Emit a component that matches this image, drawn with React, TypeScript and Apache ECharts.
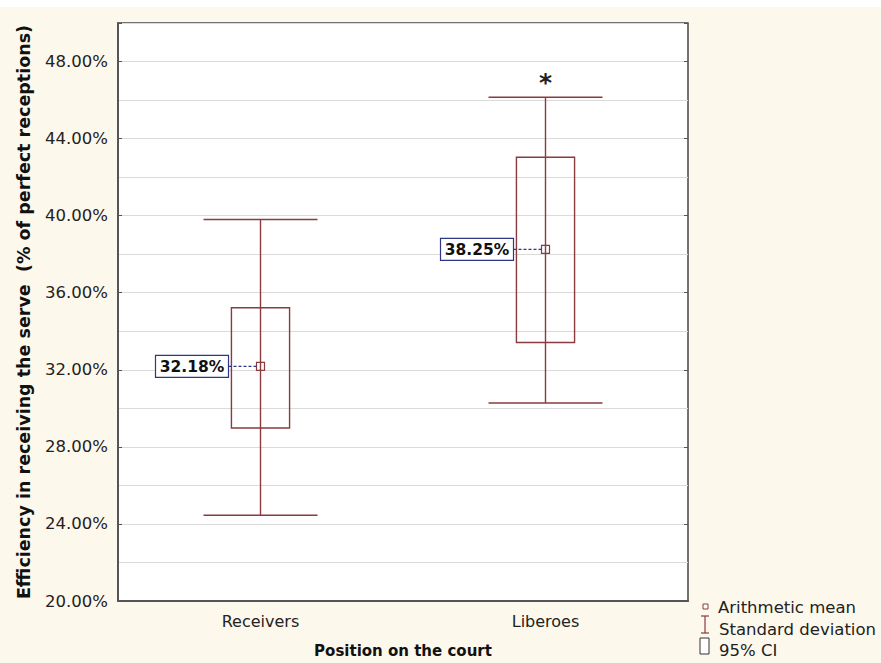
import React, { useEffect, useRef } from "react";
import * as echarts from "echarts";

// Groups on the x axis
const categories = ["Receivers", "Liberoes"];
// Arithmetic mean per group (%)
const means = [32.18, 38.25];
// 95% confidence interval bounds (%)
const ciLow = [28.98, 33.42];
const ciHigh = [35.22, 43.03];
// Mean ± standard deviation (%)
const sdLow = [24.45, 30.28];
const sdHigh = [39.8, 46.15];
// Significance marker drawn above the whisker
const significance = ["", "*"];

const yTitle = "Efficiency in receiving the serve  (% of perfect receptions)";
const xTitle = "Position on the court";

const MAROON = "#8a3b3e";
const NAVY = "#2f3587";
const FONT = "DejaVu Sans";

function renderItem(params: any, api: any) {
  const idx = params.dataIndex;
  const x = api.value(0);
  const pSdLow = api.coord([x, api.value(1)]);
  const pCiLow = api.coord([x, api.value(2)]);
  const pMean = api.coord([x, api.value(3)]);
  const pCiHigh = api.coord([x, api.value(4)]);
  const pSdHigh = api.coord([x, api.value(5)]);
  const band = api.size([1, 0])[0];
  const capHalf = band * 0.2;
  const boxHalf = band * 0.102;
  const cx = pMean[0];
  const lineStyle = { stroke: MAROON, lineWidth: 1.4, fill: "none" };

  const markHalf = 4;
  const labelW = 73;
  const labelH = 22;
  const labelRight = cx - 32;
  const labelText = means[idx].toFixed(2) + "%";

  const children: any[] = [
    { type: "line", shape: { x1: cx, y1: pSdLow[1], x2: cx, y2: pSdHigh[1] }, style: lineStyle },
    { type: "line", shape: { x1: cx - capHalf, y1: pSdLow[1], x2: cx + capHalf, y2: pSdLow[1] }, style: lineStyle },
    { type: "line", shape: { x1: cx - capHalf, y1: pSdHigh[1], x2: cx + capHalf, y2: pSdHigh[1] }, style: lineStyle },
    {
      type: "rect",
      shape: { x: cx - boxHalf, y: pCiHigh[1], width: boxHalf * 2, height: pCiLow[1] - pCiHigh[1] },
      style: lineStyle,
    },
    {
      type: "rect",
      shape: { x: cx - markHalf, y: pMean[1] - markHalf, width: markHalf * 2, height: markHalf * 2 },
      style: { stroke: MAROON, lineWidth: 1.2, fill: "rgba(255,255,255,0)" },
    },
    {
      type: "line",
      shape: { x1: labelRight, y1: pMean[1], x2: cx - markHalf, y2: pMean[1] },
      style: { stroke: NAVY, lineWidth: 1.2, lineDash: [3, 2] },
    },
    {
      type: "rect",
      shape: { x: labelRight - labelW, y: pMean[1] - labelH / 2, width: labelW, height: labelH },
      style: { stroke: NAVY, lineWidth: 1.2, fill: "#ffffff" },
    },
    {
      type: "text",
      style: {
        text: labelText,
        x: labelRight - labelW / 2,
        y: pMean[1] + 1,
        align: "center",
        verticalAlign: "middle",
        textAlign: "center",
        textVerticalAlign: "middle",
        font: `bold 15.5px "${FONT}"`,
        fill: "#111",
      },
    },
  ];

  if (significance[idx]) {
    children.push({
      type: "text",
      style: {
        text: significance[idx],
        x: cx,
        y: pSdHigh[1] - 15,
        align: "center",
        verticalAlign: "middle",
        textAlign: "center",
        textVerticalAlign: "middle",
        font: `bold 25px "${FONT}"`,
        fill: "#222",
      },
    });
  }

  return { type: "group", children };
}

export default function App() {
  const ref = useRef<HTMLDivElement>(null);

  useEffect(() => {
    document.body.style.margin = "0";
    const chart = echarts.init(ref.current!, null, { renderer: "svg" });

    const data = categories.map((_, i) => [i, sdLow[i], ciLow[i], means[i], ciHigh[i], sdHigh[i]]);

    const tickAxis = (position: "left" | "right") => ({
      type: "value",
      min: 20,
      max: 50,
      interval: 4,
      position,
      axisLine: { show: false },
      axisTick: { show: true, inside: true, length: 4, lineStyle: { color: "#555" } },
      axisLabel: { show: false },
      splitLine: { show: false },
    });

    const legendFont = `16.5px "${FONT}"`;

    chart.setOption({
      animation: false,
      backgroundColor: "#fdf8ec",
      textStyle: { fontFamily: FONT },
      grid: {
        left: 118,
        right: 193,
        top: 23,
        bottom: 61,
        show: true,
        backgroundColor: "#ffffff",
        borderColor: "#444",
        borderWidth: 1.5,
      },
      xAxis: {
        type: "category",
        data: categories,
        axisLine: { lineStyle: { color: "#555", width: 2 } },
        axisTick: { inside: true, length: 4, alignWithLabel: true, lineStyle: { color: "#777" } },
        axisLabel: { fontSize: 16, color: "#222", margin: 12 },
        name: xTitle,
        nameLocation: "middle",
        nameGap: 42,
        nameTextStyle: { fontSize: 15, fontWeight: "bold", color: "#111" },
      },
      yAxis: [
        {
          type: "value",
          min: 20,
          max: 50,
          interval: 2,
          axisLine: { show: true, lineStyle: { color: "#555", width: 2 } },
          axisTick: { show: false },
          splitLine: { lineStyle: { color: "#dadada", width: 1 } },
          axisLabel: {
            fontSize: 16.5,
            color: "#222",
            margin: 10,
            formatter: (v: number) => (Math.round(v) % 4 === 0 && v < 50 ? v.toFixed(2) + "%" : ""),
          },
          name: yTitle,
          nameLocation: "middle",
          nameGap: 85,
          nameTextStyle: { fontSize: 17.5, fontWeight: "bold", color: "#111" },
        },
        tickAxis("left"),
        tickAxis("right"),
      ],
      series: [
        {
          type: "custom",
          renderItem,
          data,
          encode: { x: 0, y: [1, 2, 3, 4, 5] },
          yAxisIndex: 0,
          clip: false,
          z: 10,
        },
      ],
      graphic: [
        { type: "rect", shape: { x: 0, y: 0, width: 881, height: 7 }, style: { fill: "#ffffff" }, silent: true },
        {
          type: "rect",
          shape: { x: 703, y: 604, width: 5, height: 5 },
          style: { fill: "#ffffff", stroke: MAROON, lineWidth: 1 },
        },
        {
          type: "text",
          style: { text: "Arithmetic mean", x: 718, y: 607, verticalAlign: "middle", textVerticalAlign: "middle", font: legendFont, fill: "#222" },
        },
        { type: "line", shape: { x1: 705, y1: 616, x2: 705, y2: 633 }, style: { stroke: MAROON, lineWidth: 1.2 } },
        { type: "line", shape: { x1: 701, y1: 616, x2: 709, y2: 616 }, style: { stroke: MAROON, lineWidth: 1.2 } },
        { type: "line", shape: { x1: 701, y1: 633, x2: 709, y2: 633 }, style: { stroke: MAROON, lineWidth: 1.2 } },
        {
          type: "text",
          style: { text: "Standard deviation", x: 719, y: 629, verticalAlign: "middle", textVerticalAlign: "middle", font: legendFont, fill: "#222" },
        },
        {
          type: "rect",
          shape: { x: 700, y: 638, width: 9, height: 16 },
          style: { fill: "#ffffff", stroke: "#333", lineWidth: 1 },
        },
        {
          type: "text",
          style: { text: "95% CI", x: 719, y: 650, verticalAlign: "middle", textVerticalAlign: "middle", font: legendFont, fill: "#222" },
        },
      ],
    });

    return () => chart.dispose();
  }, []);

  return <div ref={ref} style={{ width: 881, height: 663 }} />;
}
